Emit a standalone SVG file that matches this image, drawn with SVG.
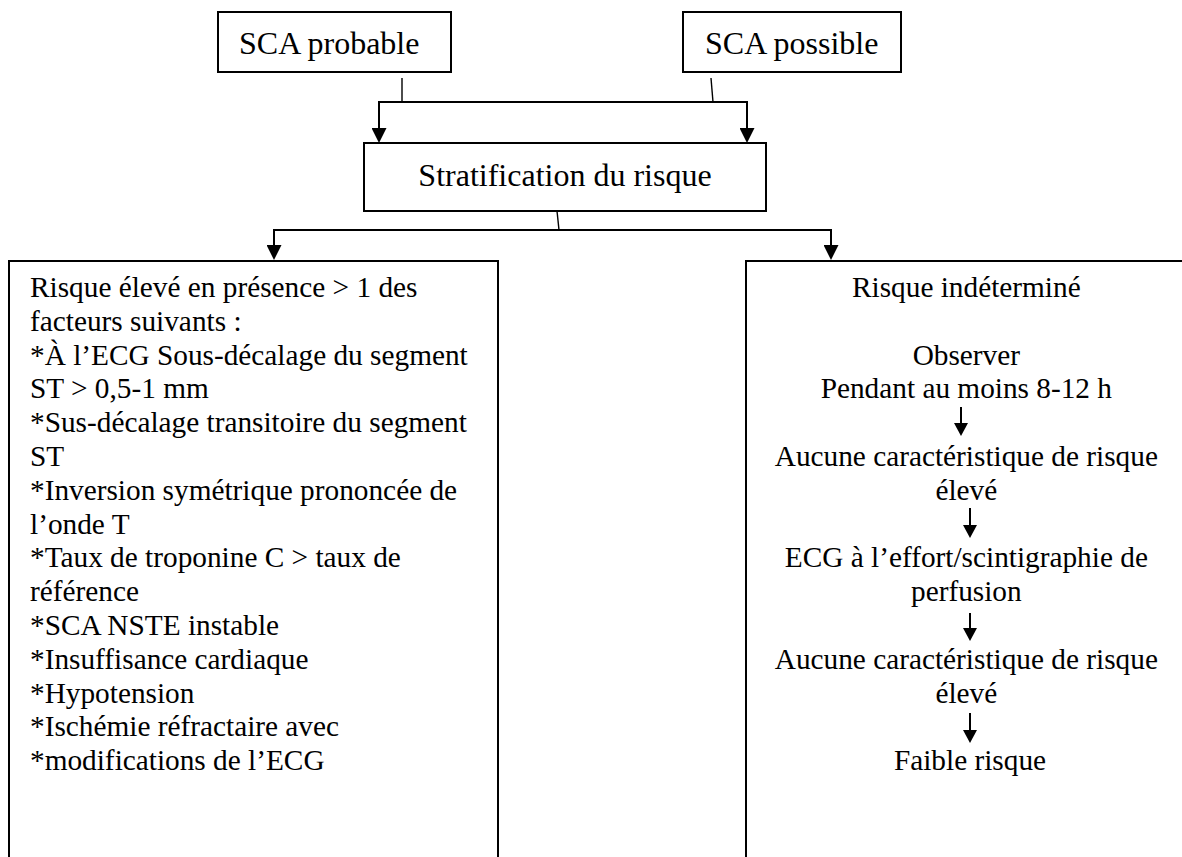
<svg xmlns="http://www.w3.org/2000/svg" width="1182" height="857" viewBox="0 0 1182 857">
  <defs>
    <marker id="ah" markerUnits="userSpaceOnUse" viewBox="0 0 15 15" refX="0" refY="7.5" markerWidth="15" markerHeight="15" orient="auto">
      <path d="M0,0 L15,7.5 L0,15 Z" fill="#000"/>
    </marker>
    <marker id="ahs" markerUnits="userSpaceOnUse" viewBox="0 0 13 14" refX="0" refY="7" markerWidth="13" markerHeight="14" orient="auto">
      <path d="M0,0 L13,7 L0,14 Z" fill="#000"/>
    </marker>
  </defs>
  <style>
    .box { fill: #fff; stroke: #000; stroke-width: 2; }
    .t { font-family: "Liberation Serif", "Times New Roman", serif; fill: #000; }
    .big { font-size: 32px; }
    .body { font-size: 29.3px; }
    .c { text-anchor: middle; }
    .con { fill: none; stroke: #000; stroke-width: 2; }
    .thin { fill: none; stroke: #000; stroke-width: 1.4; }
  </style>

  <g id="connectors">
    <path class="thin" d="M402,78 L402,102"/>
    <path class="thin" d="M711,78 L713,102"/>
    <path class="con" d="M402,102 H713"/>
    <path class="con" d="M402,102 H379 V128" marker-end="url(#ah)"/>
    <path class="con" d="M713,102 H747 V128" marker-end="url(#ah)"/>
    <path class="thin" d="M557,211 L559,230"/>
    <path class="con" d="M558,230 H274 V245" marker-end="url(#ah)"/>
    <path class="con" d="M558,230 H831 V245" marker-end="url(#ah)"/>
  </g>

  <g id="sca-probable">
    <rect class="box" x="218" y="12" width="233" height="60"/>
    <text class="t big" x="239" y="54">SCA probable</text>
  </g>

  <g id="sca-possible">
    <rect class="box" x="683" y="12" width="218" height="60"/>
    <text class="t big" x="705" y="54">SCA possible</text>
  </g>

  <g id="stratification">
    <rect class="box" x="364" y="143" width="402" height="68"/>
    <text class="t big c" x="565" y="186">Stratification du risque</text>
  </g>

  <g id="risque-eleve">
    <rect class="box" x="9" y="261" width="489" height="700"/>
    <text class="t body" x="30">
      <tspan x="30" y="297">Risque élevé en présence &gt; 1 des</tspan>
      <tspan x="30" y="330.8">facteurs suivants :</tspan>
      <tspan x="30" y="364.6">*À l’ECG Sous-décalage du segment</tspan>
      <tspan x="30" y="398.4">ST &gt; 0,5-1 mm</tspan>
      <tspan x="30" y="432.2">*Sus-décalage transitoire du segment</tspan>
      <tspan x="30" y="466">ST</tspan>
      <tspan x="30" y="499.8">*Inversion symétrique prononcée de</tspan>
      <tspan x="30" y="533.6">l’onde T</tspan>
      <tspan x="30" y="567.4">*Taux de troponine C &gt; taux de</tspan>
      <tspan x="30" y="601.2">référence</tspan>
      <tspan x="30" y="635">*SCA NSTE instable</tspan>
      <tspan x="30" y="668.8">*Insuffisance cardiaque</tspan>
      <tspan x="30" y="702.6">*Hypotension</tspan>
      <tspan x="30" y="736.4">*Ischémie réfractaire avec</tspan>
      <tspan x="30" y="770.2">*modifications de l’ECG</tspan>
    </text>
  </g>

  <g id="risque-indetermine">
    <rect class="box" x="746" y="261" width="500" height="700"/>
    <text class="t body c">
      <tspan x="970" y="297">Risque indéterminé</tspan>
      <tspan x="970" y="364.6">Observer</tspan>
      <tspan x="970" y="398.4">Pendant au moins 8-12 h</tspan>
      <tspan x="970" y="466">Aucune caractéristique de risque</tspan>
      <tspan x="970" y="499.8">élevé</tspan>
      <tspan x="970" y="567.4">ECG à l’effort/scintigraphie de</tspan>
      <tspan x="970" y="601.2">perfusion</tspan>
      <tspan x="970" y="668.8">Aucune caractéristique de risque</tspan>
      <tspan x="970" y="702.6">élevé</tspan>
      <tspan x="970" y="770.2">Faible risque</tspan>
    </text>
    <path class="con" d="M961,407 V423" marker-end="url(#ahs)"/>
    <path class="con" d="M970,508 V525" marker-end="url(#ahs)"/>
    <path class="con" d="M970,613 V628" marker-end="url(#ahs)"/>
    <path class="con" d="M970,713 V730" marker-end="url(#ahs)"/>
  </g>
</svg>
